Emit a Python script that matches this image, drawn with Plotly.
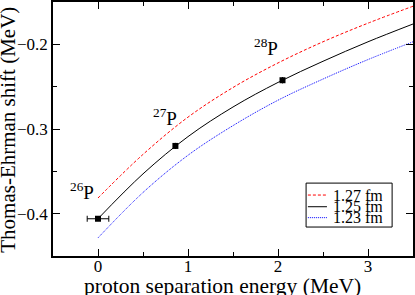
import plotly.graph_objects as go

# Curves (proton separation energy in MeV vs Thomas-Ehrman shift in MeV)
curve_x = [0.0, 0.5, 1.0, 1.5, 2.0, 2.5, 3.0, 3.5]
shift_127 = [-0.3815, -0.330, -0.286, -0.251, -0.222, -0.197, -0.175, -0.155]
shift_125 = [-0.406, -0.353, -0.309, -0.274, -0.245, -0.220, -0.197, -0.176]
shift_123 = [-0.4286, -0.375, -0.331, -0.296, -0.266, -0.241, -0.218, -0.197]
series_names = ["1.27 fm", "1.25 fm", "1.23 fm"]

# Data points
point_labels = ["<sup>26</sup>P", "<sup>27</sup>P", "<sup>28</sup>P"]
point_x = [0.0, 0.86, 2.05]
point_y = [-0.406, -0.320, -0.2424]
point_xerr = [0.12, 0.0, 0.0]
label_x = [-0.176, 0.741, 1.87]
label_y = [-0.3735, -0.2855, -0.203]

x_title = "proton separation energy (MeV)"
y_title = "Thomas-Ehrman shift (MeV)"
x_ticks = [0, 1, 2, 3]
y_ticks = [-0.4, -0.3, -0.2]

FONT = "Liberation Serif, Times New Roman, serif"
colors = ["red", "black", "blue"]
dashes = ["3px,2px", "solid", "1px,1px"]

fig = go.Figure()
for ys, nm, c, d in zip([shift_127, shift_125, shift_123], series_names, colors, dashes):
    fig.add_trace(go.Scatter(x=curve_x, y=ys, mode="lines", name=nm, showlegend=False,
                             line=dict(color=c, width=1, dash=d, shape="spline")))
fig.add_trace(go.Scatter(x=point_x, y=point_y, mode="markers", showlegend=False,
                         marker=dict(symbol="square", size=6, color="black"),
                         error_x=dict(type="data", array=point_xerr, color="black",
                                      thickness=1, width=3)))
for lx, ly, t in zip(label_x, label_y, point_labels):
    fig.add_annotation(x=lx, y=ly, text=t, showarrow=False,
                       font=dict(family=FONT, size=19, color="black"))

# Axis titles
fig.add_annotation(xref="paper", yref="paper", x=0.472, y=-0.117, text=x_title,
                   showarrow=False, xanchor="center", yanchor="middle",
                   font=dict(family=FONT, size=21.5, color="black"))
fig.add_annotation(xref="paper", yref="paper", x=-0.125, y=0.497, text=y_title,
                   showarrow=False, xanchor="center", yanchor="middle", textangle=-90,
                   font=dict(family=FONT, size=21, color="black"))

# Legend box drawn in paper coordinates
fig.add_shape(type="rect", xref="paper", yref="paper", x0=0.703, x1=0.942, y0=0.114, y1=0.287,
              line=dict(color="black", width=1), fillcolor="white", layer="above")
row_y = [0.240, 0.194, 0.151]
for ry, nm, c, d in zip(row_y, series_names, colors, dashes):
    fig.add_shape(type="line", xref="paper", yref="paper", x0=0.708, x1=0.761, y0=ry, y1=ry,
                  line=dict(color=c, width=1, dash=d), layer="above")
    fig.add_annotation(xref="paper", yref="paper", x=0.773, y=ry, text=nm, showarrow=False,
                       xanchor="left", yanchor="middle",
                       font=dict(family=FONT, size=16, color="black"))

axis_common = dict(showline=True, linecolor="black", linewidth=1.5, mirror="ticks",
                   ticks="inside", ticklen=7, tickwidth=1, tickcolor="black",
                   showgrid=False, zeroline=False, automargin=False,
                   tickfont=dict(family=FONT, size=17, color="black"))
fig.update_xaxes(range=[-0.5, 3.5], tickvals=x_ticks, ticklabelstandoff=-6,
                 minor=dict(dtick=0.5, tick0=0, ticks="inside", ticklen=4, tickcolor="black"),
                 **axis_common)
fig.update_yaxes(range=[-0.45, -0.15], tickvals=y_ticks,
                 minor=dict(dtick=0.05, tick0=0, ticks="inside", ticklen=4, tickcolor="black"),
                 **axis_common)
fig.update_layout(template="none", width=415, height=295, margin=dict(l=53, r=2, t=2, b=39),
                  paper_bgcolor="white", plot_bgcolor="white", showlegend=False)
fig.write_html("out.html", config={"displayModeBar": False},
               post_script="document.body.style.margin='0';document.body.style.padding='0';")
